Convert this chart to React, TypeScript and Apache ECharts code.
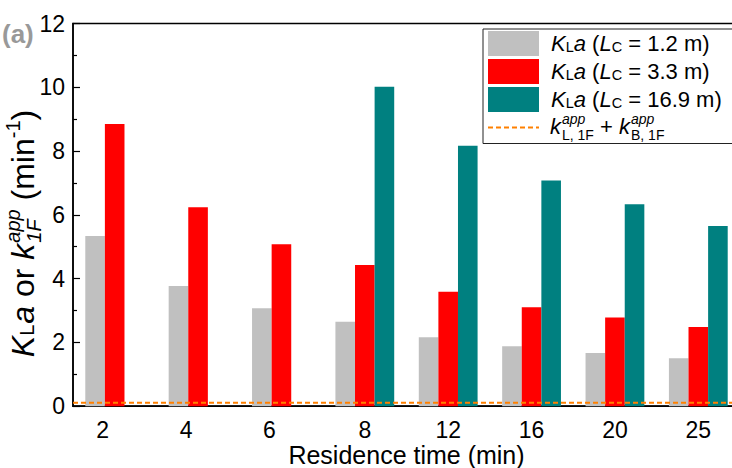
import { useEffect, useRef } from 'react';
import * as echarts from 'echarts';

// Residence time categories (min)
const categories = ['2', '4', '6', '8', '12', '16', '20', '25'];
// Volumetric mass-transfer coefficient KLa (min^-1) for three collector lengths
const kla12 = [5.34, 3.77, 3.07, 2.65, 2.16, 1.88, 1.67, 1.5];
const kla33 = [8.85, 6.24, 5.08, 4.43, 3.59, 3.1, 2.78, 2.48];
const kla169 = [null, null, null, 10.02, 8.17, 7.08, 6.33, 5.65];
// Apparent first-order constant k_L,1F + k_B,1F (min^-1)
const k1F = 0.11;
const collectorLengths = ['1.2', '3.3', '16.9'];
const seriesNames = collectorLengths.map((l) => `KLa (LC = ${l} m)`);
const barColors = ['#C0C0C0', '#FF0000', '#008080'];
const lineName = 'kL,1F + kB,1F';
const lineColor = '#FF8000';

const FONT = '"Liberation Sans", Arial, sans-serif';

type Piece = { t: string; size: number; italic?: boolean; dy?: number; stack?: boolean; gap?: number };

let measureCtx: CanvasRenderingContext2D | null = null;
function textWidth(p: Piece): number {
  if (!measureCtx) measureCtx = document.createElement('canvas').getContext('2d');
  if (!measureCtx) return p.t.length * p.size * 0.55;
  measureCtx.font = `${p.italic ? 'italic ' : ''}${p.size}px ${FONT}`;
  return measureCtx.measureText(p.t).width;
}

// Lays out text runs on a common baseline (y = 0); stacked runs share the x of the previous run.
function buildPieces(pieces: Piece[], color: string, center: boolean) {
  let cursor = 0;
  let lastX = 0;
  let lastW = 0;
  const placed: { x: number; p: Piece }[] = [];
  for (const p of pieces) {
    const w = textWidth(p);
    let x: number;
    if (p.stack) {
      x = lastX;
      lastW = Math.max(lastW, w);
      cursor = lastX + lastW;
    } else {
      x = cursor;
      cursor += w;
      lastX = x;
      lastW = w;
    }
    cursor += p.gap || 0;
    placed.push({ x, p });
  }
  const offset = center ? -cursor / 2 : 0;
  return placed.map(({ x, p }) => ({
    type: 'text',
    x: x + offset,
    y: (p.dy || 0) - 0.3465 * p.size,
    silent: true,
    style: {
      text: p.t,
      fontSize: p.size,
      fontFamily: FONT,
      fontStyle: p.italic ? 'italic' : 'normal',
      fill: color,
      textAlign: 'left',
      textVerticalAlign: 'middle',
      align: 'left',
      verticalAlign: 'middle',
    },
  }));
}

const yTitlePieces: Piece[] = [
  { t: 'K', size: 32, italic: true },
  { t: 'L', size: 20, gap: 1 },
  { t: 'a', size: 32, italic: true },
  { t: ' or ', size: 32 },
  { t: 'k', size: 32, italic: true, gap: 1 },
  { t: 'app', size: 20, italic: true, dy: -14 },
  { t: '1F', size: 20, italic: true, dy: 7, stack: true },
  { t: ' (min', size: 32 },
  { t: '-1', size: 20, dy: -14 },
  { t: ')', size: 32 },
];

const legendLinePieces: Piece[] = [
  { t: 'k', size: 22, italic: true, gap: 1 },
  { t: 'app', size: 14, italic: true, dy: -10 },
  { t: 'L, 1F', size: 14, dy: 6, stack: true },
  { t: ' + ', size: 22 },
  { t: 'k', size: 22, italic: true, gap: 1 },
  { t: 'app', size: 14, italic: true, dy: -10 },
  { t: 'B, 1F', size: 14, dy: 6, stack: true },
];

function legendLabel(name: string): string {
  const i = seriesNames.indexOf(name);
  if (i < 0) return '';
  return `{ip|K}{s|L}{i|a}{n| (}{i|L}{s|C}{n| = ${collectorLengths[i]} m)}`;
}

export default function App() {
  const ref = useRef<HTMLDivElement>(null);

  useEffect(() => {
    if (!ref.current) return;
    const chart = echarts.init(ref.current, undefined, { renderer: 'svg' });
    const axisLineStyle = { color: '#000', width: 1.5 };

    chart.setOption({
      animation: false,
      backgroundColor: '#fff',
      grid: {
        left: 73,
        top: 23.5,
        width: 667,
        height: 382.7,
        outerBoundsMode: 'none',
        show: true,
        borderColor: '#000',
        borderWidth: 1.5,
      },
      legend: {
        orient: 'vertical',
        left: 483,
        top: 29,
        padding: [2, 20, 6, 4],
        itemGap: 3,
        itemWidth: 51,
        itemHeight: 25,
        borderColor: '#222',
        borderWidth: 1,
        selectedMode: false,
        data: [
          ...seriesNames.map((name) => ({ name, icon: 'rect' })),
          { name: lineName, itemStyle: { color: 'rgba(0,0,0,0)', opacity: 0, borderWidth: 0 } },
        ],
        formatter: legendLabel,
        textStyle: {
          color: '#000',
          fontFamily: FONT,
          fontSize: 22,
          rich: {
            ip: { fontSize: 22, fontStyle: 'italic', fontFamily: FONT, color: '#000', padding: [0, 0, 0, 7], verticalAlign: 'bottom' },
            i: { fontSize: 22, fontStyle: 'italic', fontFamily: FONT, color: '#000', verticalAlign: 'bottom' },
            n: { fontSize: 22, fontFamily: FONT, color: '#000', verticalAlign: 'bottom' },
            s: { fontSize: 14.5, fontFamily: FONT, color: '#000', verticalAlign: 'bottom' },
          },
        },
      },
      xAxis: [
        {
          type: 'category',
          data: categories,
          axisLine: { lineStyle: axisLineStyle },
          axisTick: { show: false },
          axisLabel: {
            margin: 12,
            formatter: (v: string, i: number) => (i < 3 ? `{s|${v}}` : `{n|${v}}`),
            rich: {
              s: { fontSize: 23, fontFamily: FONT, color: '#000', padding: [0, 24, 0, 0] },
              n: { fontSize: 23, fontFamily: FONT, color: '#000' },
            },
          },
          name: 'Residence time (min)',
          nameLocation: 'middle',
          nameGap: 36,
          nameMoveOverlap: false,
          nameTextStyle: { fontSize: 25, fontFamily: FONT, color: '#000', lineHeight: 25, verticalAlign: 'top' },
        },
        { type: 'value', min: 0, max: 1, show: false },
      ],
      yAxis: {
        type: 'value',
        min: 0,
        max: 12,
        interval: 2,
        axisLine: { show: true, lineStyle: axisLineStyle },
        axisTick: { show: true, inside: true, length: 7, lineStyle: { color: '#000', width: 1.2 } },
        minorTick: { show: true, splitNumber: 2, length: 4, lineStyle: { color: '#000', width: 1.2 } },
        splitLine: { show: false },
        axisLabel: { fontSize: 23, fontFamily: FONT, color: '#000', margin: 8 },
      },
      series: [
        ...[kla12, kla33, kla169].map((d, i) => ({
          name: seriesNames[i],
          type: 'bar',
          data: d,
          barWidth: 19.6,
          barGap: '0%',
          itemStyle: { color: barColors[i] },
        })),
        {
          name: lineName,
          type: 'line',
          xAxisIndex: 1,
          data: [
            [0, k1F],
            [1, k1F],
          ],
          symbol: 'none',
          z: 3,
          lineStyle: { color: lineColor, width: 2, type: [5, 3] },
          itemStyle: { color: lineColor },
        },
      ],
      graphic: [
        {
          type: 'text',
          left: 2,
          top: 21,
          silent: true,
          style: { text: '(a)', fontSize: 26, fontWeight: 'bold', fontFamily: FONT, fill: '#999999' },
        },
        {
          type: 'group',
          x: 34,
          y: 233.5,
          rotation: Math.PI / 2,
          children: buildPieces(yTitlePieces, '#000', true),
        },
        {
          type: 'group',
          x: 550,
          y: 134,
          children: buildPieces(legendLinePieces, '#000', false),
        },
      ],
    });

    return () => chart.dispose();
  }, []);

  return (
    <div
      ref={ref}
      style={{ position: 'fixed', left: 0, top: 0, width: 732, height: 468, background: '#fff' }}
    />
  );
}
